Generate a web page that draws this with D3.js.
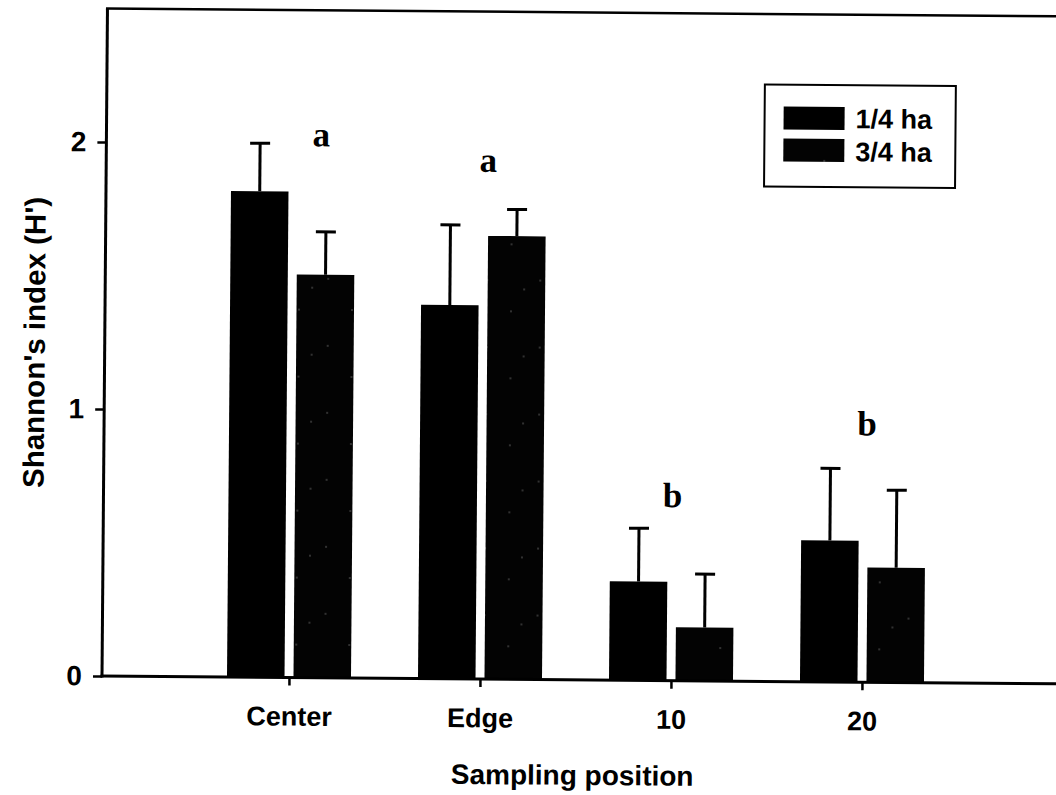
<!DOCTYPE html>
<html>
<head>
<meta charset="utf-8">
<script src="https://cdn.jsdelivr.net/npm/d3@7"></script>
<style>
  html, body { margin: 0; padding: 0; background: #fff; }
  svg { display: block; }
</style>
</head>
<body>
<svg id="chart" width="1056" height="795"></svg>
<script>
// Shannon's diversity index by sampling position and plot size
const categories = ["Center", "Edge", "10", "20"];
const seriesNames = ["1/4 ha", "3/4 ha"];
const meanQuarter = [1.82, 1.40, 0.37, 0.53];
const errQuarter = [0.18, 0.30, 0.20, 0.27];
const meanThreeQuarter = [1.51, 1.66, 0.20, 0.43];
const errThreeQuarter = [0.16, 0.10, 0.20, 0.29];
const yTicks = [0, 1, 2];
const groupLetters = ["a", "a", "b", "b"];
const letterLevel = [1.99, 1.90, 0.65, 0.925];

const xTitle = "Sampling position";
const yTitle = "Shannon's index (H')";

const rows = [];
categories.forEach((c, i) => {
  rows.push({ cat: c, series: seriesNames[0], mean: meanQuarter[i], err: errQuarter[i] });
  rows.push({ cat: c, series: seriesNames[1], mean: meanThreeQuarter[i], err: errThreeQuarter[i] });
});

const svg = d3.select("#chart");
const sans = "'Liberation Sans', Arial, Helvetica, sans-serif";
const serif = "'Liberation Serif', 'Times New Roman', serif";

// speckled dark fill for the 3/4 ha series
const defs = svg.append("defs");
const pat = defs.append("pattern")
  .attr("id", "speckle")
  .attr("patternUnits", "userSpaceOnUse")
  .attr("width", 53).attr("height", 67);
pat.append("rect").attr("width", 53).attr("height", 67).attr("fill", "#030303");
[[7, 9], [31, 40], [44, 18]].forEach(([cx, cy]) => {
  pat.append("circle").attr("cx", cx).attr("cy", cy).attr("r", 0.8).attr("fill", "#6a6a6a");
});

const x0 = 102, yBase = 676, xRight = 1110;
const y = d3.scaleLinear().domain([0, 2.5]).range([yBase, 8.5]);
const x = d3.scalePoint().domain(categories).range([289, 862]);
const xs = d3.scaleBand().domain(seriesNames).range([-62, 62]).paddingInner(0.135);
const fillFor = s => s === seriesNames[0] ? "#000" : "url(#speckle)";

// whole figure sits with a slight clockwise tilt
const g = svg.append("g").attr("transform", `rotate(0.47, ${x0}, ${yBase})`);

// bars
g.append("g").selectAll("rect").data(rows).join("rect")
  .attr("x", d => x(d.cat) + xs(d.series))
  .attr("y", d => y(d.mean))
  .attr("width", xs.bandwidth())
  .attr("height", d => y(0) - y(d.mean))
  .attr("fill", d => fillFor(d.series));

// error bars (upper only)
const eb = g.append("g").attr("stroke", "#000").attr("stroke-width", 3);
eb.selectAll("line.v").data(rows).join("line").attr("class", "v")
  .attr("x1", d => x(d.cat) + xs(d.series) + xs.bandwidth() / 2)
  .attr("x2", d => x(d.cat) + xs(d.series) + xs.bandwidth() / 2)
  .attr("y1", d => y(d.mean))
  .attr("y2", d => y(d.mean + d.err));
eb.selectAll("line.c").data(rows).join("line").attr("class", "c")
  .attr("x1", d => x(d.cat) + xs(d.series) + xs.bandwidth() / 2 - 10)
  .attr("x2", d => x(d.cat) + xs(d.series) + xs.bandwidth() / 2 + 10)
  .attr("y1", d => y(d.mean + d.err))
  .attr("y2", d => y(d.mean + d.err));

// frame: left axis, top border, baseline
const frame = g.append("g").attr("stroke", "#000").attr("fill", "none");
frame.append("line").attr("x1", x0).attr("x2", x0).attr("y1", y(0) + 1.5).attr("y2", y(2.5))
  .attr("stroke-width", 3);
frame.append("line").attr("x1", x0 - 1.5).attr("x2", xRight).attr("y1", y(2.5)).attr("y2", y(2.5))
  .attr("stroke-width", 2.5);
frame.append("line").attr("x1", x0 - 1.5).attr("x2", xRight).attr("y1", y(0)).attr("y2", y(0))
  .attr("stroke-width", 3);

// y axis ticks and labels
const yAxis = g.append("g").attr("transform", `translate(${x0},0)`)
  .call(d3.axisLeft(y).tickValues(yTicks).tickFormat(d3.format("d")).tickSize(9).tickPadding(11));
yAxis.select(".domain").remove();
yAxis.selectAll(".tick line").attr("stroke", "#000").attr("stroke-width", 2.5);
yAxis.selectAll(".tick text")
  .attr("fill", "#000")
  .style("font-family", sans).style("font-weight", "bold").style("font-size", "28px");

// x axis ticks and labels
const xAxis = g.append("g").attr("transform", `translate(0,${yBase})`)
  .call(d3.axisBottom(x).tickSize(8).tickPadding(21));
xAxis.select(".domain").remove();
xAxis.selectAll(".tick line").attr("stroke", "#000").attr("stroke-width", 2.5);
xAxis.selectAll(".tick text")
  .attr("fill", "#000")
  .style("font-family", sans).style("font-weight", "bold").style("font-size", "27px");

// significance letters
const letterShift = [28, 4, 0, 3];
g.append("g").selectAll("text").data(categories).join("text")
  .attr("x", (c, i) => x(c) + letterShift[i])
  .attr("y", (c, i) => y(letterLevel[i]))
  .attr("text-anchor", "middle")
  .style("font-family", serif).style("font-weight", "bold").style("font-size", "35px")
  .text((c, i) => groupLetters[i]);

// axis titles
g.append("text")
  .attr("x", 573).attr("y", 781)
  .attr("text-anchor", "middle")
  .style("font-family", sans).style("font-weight", "bold").style("font-size", "28px")
  .text(xTitle);
g.append("text")
  .attr("transform", "translate(42,343) rotate(-90)")
  .attr("text-anchor", "middle")
  .style("font-family", sans).style("font-weight", "bold").style("font-size", "29.5px")
  .text(yTitle);

// legend
const lg = g.append("g").attr("transform", "translate(760,79)");
lg.append("rect").attr("width", 191).attr("height", 102)
  .attr("fill", "#fff").attr("stroke", "#000").attr("stroke-width", 2);
seriesNames.forEach((s, i) => {
  lg.append("rect").attr("x", 19).attr("y", 22 + i * 32).attr("width", 61).attr("height", 23)
    .attr("fill", fillFor(s));
  lg.append("text").attr("x", 91).attr("y", 43 + i * 33)
    .style("font-family", sans).style("font-weight", "bold").style("font-size", "27px")
    .text(s);
});
</script>
</body>
</html>
